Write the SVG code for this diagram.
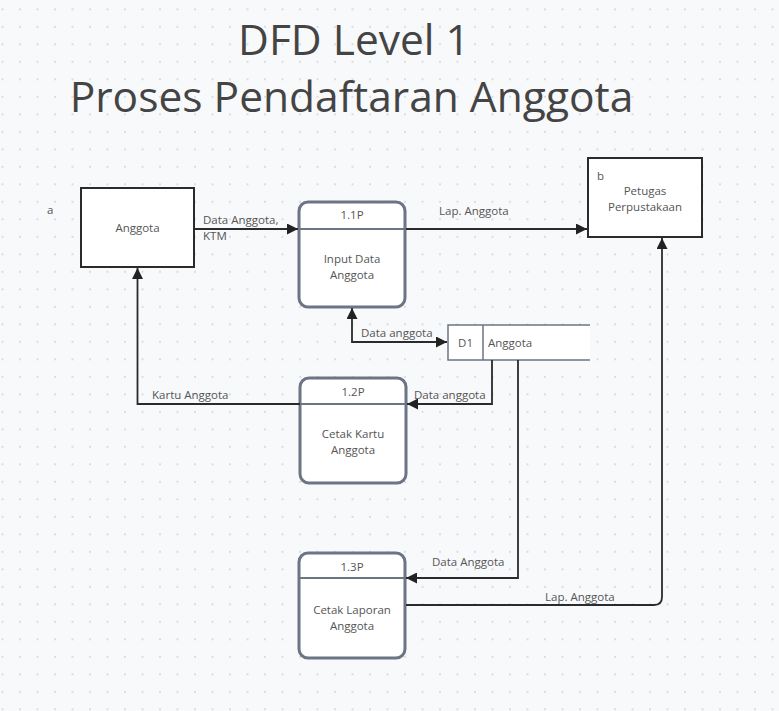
<svg xmlns="http://www.w3.org/2000/svg" width="779" height="711" viewBox="0 0 779 711">
<defs>
<pattern id="dots" patternUnits="userSpaceOnUse" x="-6.25" y="0.55" width="17.5" height="17.5">
<circle cx="8.75" cy="8.75" r="0.9" fill="#cdd0d6"/>
</pattern>
<marker id="arr" viewBox="0 0 10 10" refX="10" refY="5" markerWidth="11" markerHeight="11" markerUnits="userSpaceOnUse" orient="auto-start-reverse">
<path d="M0,0 L10,5 L0,10 z" fill="#222"/>
</marker>
<style>
text{font-family:"Open Sans","Noto Sans","Liberation Sans",sans-serif;fill:#555;font-size:11.5px}
.title{font-size:42.5px;fill:#444;text-anchor:middle}
.c{text-anchor:middle}
.ent{fill:#fff;stroke:#2b2b2b;stroke-width:2}
.proc{fill:#fff;stroke:#6b7583;stroke-width:3}
.div{stroke:#6b7583;stroke-width:2}
.store{fill:#fff;stroke:#6b7583;stroke-width:1.5}
.con path{fill:none;stroke:#2b2b2b;stroke-width:1.8}
</style>
</defs>
<rect width="779" height="711" fill="#f8f9fb"/>
<rect width="779" height="711" fill="url(#dots)"/>

<g id="title">
<text class="title" x="354" y="55">DFD Level 1</text>
<text class="title" x="351.5" y="112">Proses Pendaftaran Anggota</text>
</g>

<g id="anggota">
<rect class="ent" x="81" y="188" width="113" height="79"/>
<text x="47" y="214">a</text>
<text class="c" x="137.5" y="232">Anggota</text>
</g>

<g id="petugas">
<rect class="ent" x="588" y="158" width="114" height="79"/>
<text x="597" y="180">b</text>
<text class="c" x="645" y="195">Petugas</text>
<text class="c" x="645" y="211">Perpustakaan</text>
</g>

<g id="p11">
<rect class="proc" x="299" y="202" width="106" height="105" rx="9"/>
<line class="div" x1="300" y1="229" x2="404" y2="229"/>
<text class="c" x="352" y="219">1.1P</text>
<text class="c" x="352" y="263">Input Data</text>
<text class="c" x="352" y="279">Anggota</text>
</g>

<g id="p12">
<rect class="proc" x="300" y="378" width="106" height="105" rx="9"/>
<line class="div" x1="301" y1="404" x2="405" y2="404"/>
<text class="c" x="353" y="396">1.2P</text>
<text class="c" x="353" y="438">Cetak Kartu</text>
<text class="c" x="353" y="454">Anggota</text>
</g>

<g id="p13">
<rect class="proc" x="299" y="553" width="106" height="105" rx="9"/>
<line class="div" x1="300" y1="578" x2="404" y2="578"/>
<text class="c" x="352" y="571">1.3P</text>
<text class="c" x="352" y="614">Cetak Laporan</text>
<text class="c" x="352" y="630">Anggota</text>
</g>

<g id="d1">
<path class="store" d="M590,325 H448 V360 H590"/>
<line class="store" x1="483" y1="325" x2="483" y2="360"/>
<text class="c" x="465.5" y="347">D1</text>
<text x="488" y="347">Anggota</text>
</g>

<g id="connectors" class="con">
<path d="M194,229 H298" marker-end="url(#arr)"/>
<path d="M406,229 H587" marker-end="url(#arr)"/>
<path d="M352,308 V342 H447" marker-start="url(#arr)" marker-end="url(#arr)"/>
<path d="M492,360 V404 H407" marker-end="url(#arr)"/>
<path d="M300,404 H137.5 V268" marker-end="url(#arr)"/>
<path d="M518,360 V578 H406" marker-end="url(#arr)"/>
<path d="M406,605 H654 Q662,605 662,597 V238" marker-end="url(#arr)"/>
</g>

<g id="labels">
<text x="203" y="224">Data Anggota,</text>
<text x="203" y="240">KTM</text>
<text x="439" y="215">Lap. Anggota</text>
<text x="361" y="337">Data anggota</text>
<text x="414" y="399">Data anggota</text>
<text x="152" y="399">Kartu Anggota</text>
<text x="432" y="566">Data Anggota</text>
<text x="545" y="601">Lap. Anggota</text>
</g>
</svg>
